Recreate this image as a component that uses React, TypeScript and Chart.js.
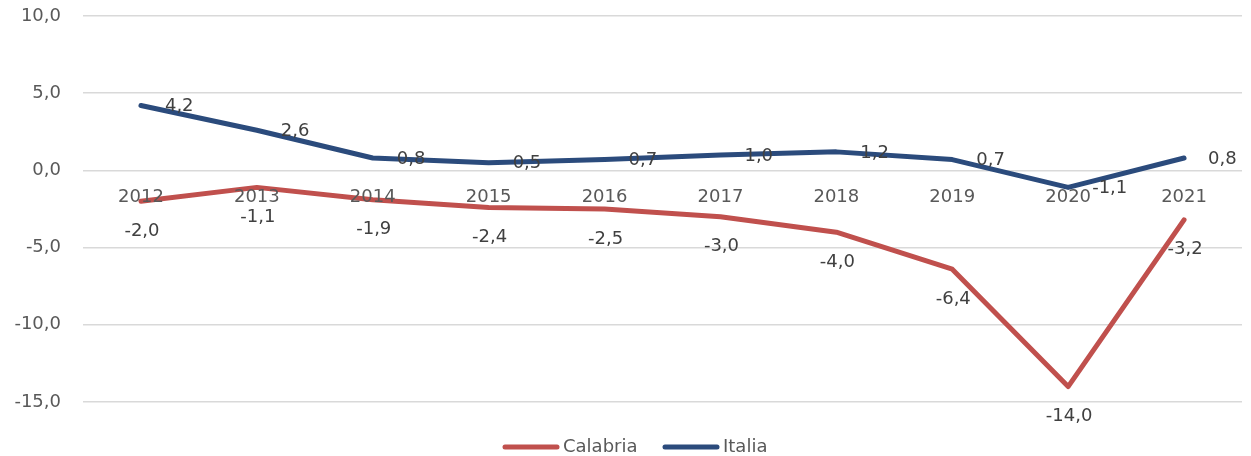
import React, { useEffect, useRef } from "react";
import { Chart, registerables } from "chart.js";

Chart.register(...registerables);

const years = ["2012", "2013", "2014", "2015", "2016", "2017", "2018", "2019", "2020", "2021"];
const calabria = [-2.0, -1.1, -1.9, -2.4, -2.5, -3.0, -4.0, -6.4, -14.0, -3.2];
const italia = [4.2, 2.6, 0.8, 0.5, 0.7, 1.0, 1.2, 0.7, -1.1, 0.8];
const seriesNames = ["Calabria", "Italia"];
const seriesColors = ["#c0504d", "#2b4b7c"];

const FONT = "DejaVu Sans";
const SIZE = 18;
const fmt = (v: number) => v.toFixed(1).replace(".", ",");

const labelsPlugin = {
  id: "customLabels",
  afterDatasetsDraw(chart: any) {
    const ctx = chart.ctx;
    const xs = chart.scales.x;
    const ys = chart.scales.y;
    ctx.save();
    ctx.font = `${SIZE}px "${FONT}"`;
    ctx.fillStyle = "#595959";
    ctx.textAlign = "center";
    ctx.textBaseline = "middle";
    const y0 = ys.getPixelForValue(0);
    years.forEach((yr, i) => {
      ctx.fillText(yr, xs.getPixelForValue(i), y0 + 27);
    });
    ctx.fillStyle = "#404040";
    const m0 = chart.getDatasetMeta(0);
    m0.data.forEach((pt: any, i: number) => {
      ctx.textAlign = "center";
      ctx.fillText(fmt(calabria[i]), pt.x + 1, pt.y + 30);
    });
    const m1 = chart.getDatasetMeta(1);
    m1.data.forEach((pt: any, i: number) => {
      ctx.textAlign = "left";
      ctx.fillText(fmt(italia[i]), pt.x + 24, pt.y + 1);
    });
    ctx.fillStyle = "#595959";
    ctx.textAlign = "left";
    ctx.lineCap = "round";
    ctx.lineWidth = 5;
    const legY = 447;
    const items = [
      { x: 505, name: seriesNames[0], color: seriesColors[0] },
      { x: 665, name: seriesNames[1], color: seriesColors[1] },
    ];
    items.forEach((it) => {
      ctx.strokeStyle = it.color;
      ctx.beginPath();
      ctx.moveTo(it.x, legY);
      ctx.lineTo(it.x + 52, legY);
      ctx.stroke();
      ctx.fillText(it.name, it.x + 58, legY);
    });
    ctx.restore();
  },
};

export default function App() {
  const ref = useRef<HTMLCanvasElement>(null);
  useEffect(() => {
    document.body.style.margin = "0";
    const chart = new Chart(ref.current as HTMLCanvasElement, {
      type: "line",
      data: {
        labels: years,
        datasets: [
          {
            label: seriesNames[0],
            data: calabria,
            borderColor: seriesColors[0],
            backgroundColor: seriesColors[0],
            borderWidth: 5,
            pointRadius: 0,
            tension: 0,
            borderCapStyle: "round",
            borderJoinStyle: "round",
          },
          {
            label: seriesNames[1],
            data: italia,
            borderColor: seriesColors[1],
            backgroundColor: seriesColors[1],
            borderWidth: 5,
            pointRadius: 0,
            tension: 0,
            borderCapStyle: "round",
            borderJoinStyle: "round",
          },
        ],
      },
      options: {
        animation: false,
        responsive: false,
        maintainAspectRatio: false,
        layout: { padding: { top: 16, right: 9, bottom: 54, left: 0 } },
        plugins: {
          legend: { display: false },
          tooltip: { enabled: false },
        },
        scales: {
          x: {
            type: "category",
            offset: true,
            display: false,
          },
          y: {
            min: -15,
            max: 10,
            afterFit: (s: any) => {
              s.width = 83;
              s.paddingTop = 0;
              s.paddingBottom = 0;
            },
            border: { display: false },
            grid: { color: "#d9d9d9", lineWidth: 1.5, drawTicks: false },
            ticks: {
              stepSize: 5,
              padding: 22,
              color: "#595959",
              font: { family: FONT, size: SIZE },
              callback: (v: any) => fmt(Number(v)),
            },
          },
        },
      },
      plugins: [labelsPlugin],
    });
    return () => chart.destroy();
  }, []);
  return <canvas ref={ref} width={1251} height={456} style={{ display: "block" }} />;
}
